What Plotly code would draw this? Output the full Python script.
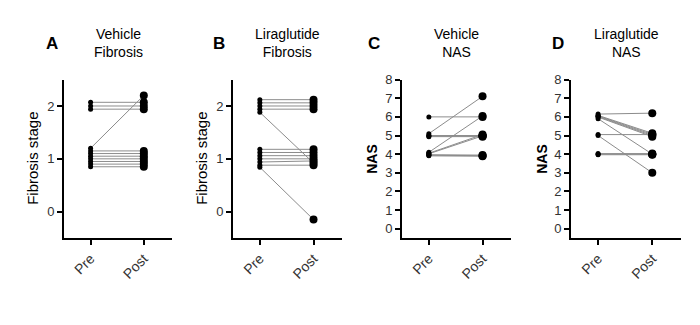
import plotly.graph_objects as go

groups = ["Pre", "Post"]

# Panel A: Vehicle fibrosis (values as displayed, with Prism-style vertical spread)
a_pre = [2.07, 2.0, 1.94, 1.2, 1.15, 1.1, 1.05, 1.0, 0.95, 0.9, 0.85]
a_post = [2.07, 2.0, 1.94, 2.2, 1.15, 1.1, 1.05, 1.0, 0.95, 0.9, 0.85]

# Panel B: Liraglutide fibrosis
b_pre = [2.12, 2.06, 2.0, 1.94, 1.88, 1.18, 1.12, 1.06, 1.0, 0.94, 0.88, 0.84]
b_post = [2.12, 2.06, 2.0, 1.94, 0.92, 1.18, 1.12, 1.06, 1.0, 0.96, 0.88, -0.15]

# Panel C: Vehicle NAS
c_pre = [6.0, 5.1, 5.0, 4.97, 4.94, 4.1, 4.05, 4.02, 3.97, 3.94, 3.91]
c_post = [6.0, 7.1, 5.0, 4.97, 4.94, 6.05, 5.05, 4.98, 3.95, 3.92, 3.89]

# Panel D: Liraglutide NAS
d_pre = [6.15, 6.08, 6.05, 6.02, 5.99, 5.9, 5.05, 5.0, 4.03, 4.0, 3.97]
d_post = [6.2, 5.12, 5.06, 5.0, 4.94, 4.0, 5.05, 3.0, 4.03, 4.0, 3.97]

panels = [
    dict(pre=a_pre, post=a_post, letter="A", title="Vehicle<br>Fibrosis", ytitle="Fibrosis stage",
         ytickvals=[0, 1, 2], yrange=[-0.5, 2.5], xdom=(64, 172), letter_x=52, title_x=118, ytitle_x=33, ybold=False),
    dict(pre=b_pre, post=b_post, letter="B", title="Liraglutide<br>Fibrosis", ytitle="Fibrosis stage",
         ytickvals=[0, 1, 2], yrange=[-0.5, 2.5], xdom=(233, 342), letter_x=219, title_x=287, ytitle_x=202, ybold=False),
    dict(pre=c_pre, post=c_post, letter="C", title="Vehicle<br>NAS", ytitle="NAS",
         ytickvals=list(range(9)), yrange=[-0.5, 8], xdom=(402, 511), letter_x=374, title_x=456, ytitle_x=372, ybold=True),
    dict(pre=d_pre, post=d_post, letter="D", title="Liraglutide<br>NAS", ytitle="NAS",
         ytickvals=list(range(9)), yrange=[-0.5, 8], xdom=(571, 681), letter_x=558, title_x=626, ytitle_x=542, ybold=True),
]

W, H = 700, 325
OFF = 8  # page body margin offset
fig = go.Figure()
font_fam = "Liberation Sans, Arial, sans-serif"
annotations = []


def px(x):
    return (x - OFF) / W


def py(y):
    return 1 - (y - OFF) / H


for i, p in enumerate(panels, start=1):
    xa = "x" if i == 1 else f"x{i}"
    ya = "y" if i == 1 else f"y{i}"
    lx, ly = [], []
    for a, b in zip(p["pre"], p["post"]):
        lx += [groups[0], groups[1], None]
        ly += [a, b, None]
    fig.add_trace(go.Scatter(x=lx, y=ly, mode="lines", line=dict(color="#8c8c8c", width=1),
                             xaxis=xa, yaxis=ya, showlegend=False, hoverinfo="skip"))
    fig.add_trace(go.Scatter(x=[groups[0]] * len(p["pre"]), y=p["pre"], mode="markers",
                             marker=dict(color="black", size=5), xaxis=xa, yaxis=ya, showlegend=False))
    fig.add_trace(go.Scatter(x=[groups[1]] * len(p["post"]), y=p["post"], mode="markers",
                             marker=dict(color="black", size=8), xaxis=xa, yaxis=ya, showlegend=False))
    xkey = "xaxis" if i == 1 else f"xaxis{i}"
    ykey = "yaxis" if i == 1 else f"yaxis{i}"
    fig.update_layout(**{
        xkey: dict(domain=[px(p["xdom"][0]), px(p["xdom"][1])], anchor=ya, type="category",
                   categoryorder="array", categoryarray=groups, range=[-0.5, 1.53],
                   showline=True, linecolor="black", linewidth=2, ticks="outside", ticklen=5,
                   tickwidth=1.5, tickcolor="black", tickangle=-45, showgrid=False, zeroline=False,
                   tickfont=dict(family=font_fam, size=14, color="#333")),
        ykey: dict(domain=[py(236), py(74)], anchor=xa, range=p["yrange"],
                   tickvals=p["ytickvals"], showline=True, linecolor="black", linewidth=2,
                   ticks="outside", ticklen=5, tickwidth=1.5, tickcolor="black",
                   showgrid=False, zeroline=False,
                   tickfont=dict(family=font_fam, size=13, color="#333")),
    })
    annotations.append(dict(x=px(p["letter_x"]), y=py(37), xref="paper", yref="paper",
                            xanchor="center", yanchor="middle",
                            text=f"<b>{p['letter']}</b>", showarrow=False,
                            font=dict(family=font_fam, size=17, color="black")))
    annotations.append(dict(x=px(p["title_x"]), y=py(37), xref="paper", yref="paper",
                            xanchor="center", yanchor="middle",
                            text=p["title"], showarrow=False,
                            font=dict(family=font_fam, size=14, color="black")))
    ytxt = f"<b>{p['ytitle']}</b>" if p["ybold"] else p["ytitle"]
    annotations.append(dict(x=px(p["ytitle_x"]), y=py(155), xref="paper", yref="paper",
                            xanchor="center", yanchor="middle",
                            text=ytxt, textangle=-90, showarrow=False,
                            font=dict(family=font_fam, size=15 if not p["ybold"] else 14, color="black")))

fig.update_layout(width=W, height=H, margin=dict(l=0, r=0, t=0, b=0),
                  paper_bgcolor="white", plot_bgcolor="white", annotations=annotations)

fig.write_html("out.html")
